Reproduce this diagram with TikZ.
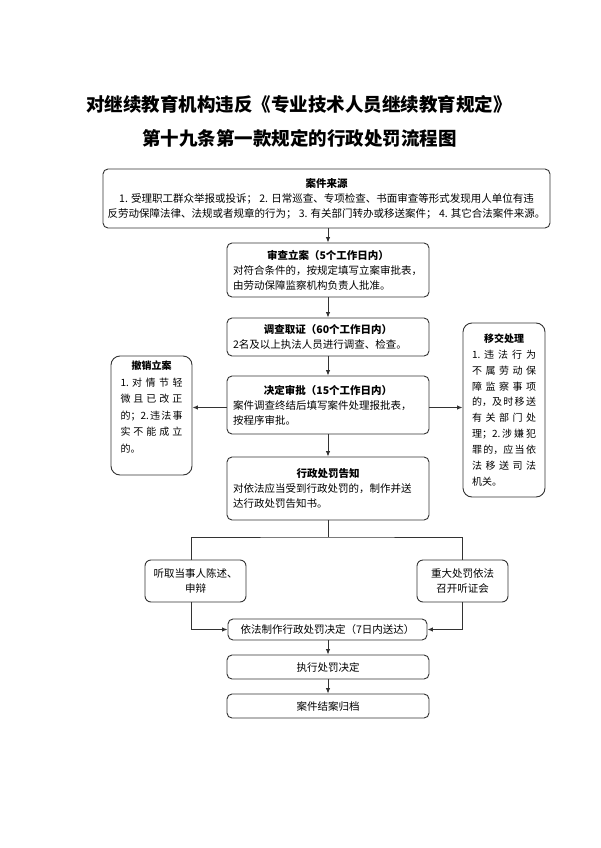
\documentclass[tikz,border=0pt]{standalone}
\usepackage{fontspec}
\setmainfont{Noto Sans CJK SC}
\usetikzlibrary{arrows.meta}
\definecolor{linec}{HTML}{333333}
\newcommand\hs{\hfill}
\begin{document}
\begin{tikzpicture}[x=1pt,y=-1pt,
  box/.style={draw=linec,line width=0.9pt,rounded corners=5pt,inner sep=0pt,font=\fontsize{10.5}{15}\selectfont},
  sidebox/.style={box,rounded corners=9pt},
  sidetext/.style={inner sep=0pt,align=left,text width=62pt,font=\fontsize{10}{16.6}\selectfont},
  conn/.style={draw=linec,line width=0.9pt},
  arr/.style={conn,-{Latex[length=5.5pt,width=4.5pt]}},
  ttl/.style={inner sep=0pt,font=\fontsize{18.5}{22}\selectfont\bfseries}]
\useasboundingbox[fill=white] (0,0) rectangle (600,848);

\node[ttl] (t1) at (299,104) {对继续教育机构违反《专业技术人员继续教育规定》};
\node[ttl] (t2) at (299.5,138) {第十九条第一款规定的行政处罚流程图};

\node[box,minimum width=447pt,minimum height=59pt,align=center] (b1) at (326.5,198.5)
  {{\bfseries 案件来源}\\1. 受理职工群众举报或投诉； 2. 日常巡查、专项检查、书面审查等形式发现用人单位有违\\反劳动保障法律、法规或者规章的行为； 3. 有关部门转办或移送案件； 4. 其它合法案件来源。};

\node[box,minimum width=202pt,minimum height=54pt,text width=190pt,align=left] (b2) at (328,270)
  {\makebox[190pt]{\bfseries 审查立案（5个工作日内）}\\对符合条件的，按规定填写立案审批表，\\由劳动保障监察机构负责人批准。};

\node[box,minimum width=202pt,minimum height=38pt,text width=190pt,align=left] (b3) at (328,337)
  {\makebox[190pt]{\bfseries 调查取证（60个工作日内）}\\2名及以上执法人员进行调查、检查。};

\node[box,minimum width=202pt,minimum height=58pt,text width=190pt,align=left] (b4) at (328,405)
  {\makebox[190pt]{\bfseries 决定审批（15个工作日内）}\\案件调查终结后填写案件处理报批表，\\按程序审批。};

\node[box,minimum width=202pt,minimum height=63pt,text width=190pt,align=left] (b5) at (328,488.5)
  {\makebox[190pt]{\bfseries 行政处罚告知}\\对依法应当受到行政处罚的，制作并送\\达行政处罚告知书。};

\node[sidebox,minimum width=81pt,minimum height=119pt] (lbox) at (151.5,415.5) {};
\node[sidetext,anchor=north] (ltxt) at ([yshift=-5pt]lbox.north)
  {\makebox[62pt]{\bfseries 撤销立案}\\
   \makebox[62pt]{1.\hs 对\hs 情\hs 节\hs 轻}\\
   \makebox[62pt]{微\hs 且\hs 已\hs 改\hs 正}\\
   \makebox[62pt]{的；2.\hs 违\hs 法\hs 事}\\
   \makebox[62pt]{实\hs 不\hs 能\hs 成\hs 立}\\
   的。};

\node[sidebox,minimum width=82pt,minimum height=174pt,text width=64pt,align=left,font=\fontsize{10}{15.9}\selectfont] (rbox) at (504,410)
  {\makebox[64pt]{\bfseries 移交处理}\\
   \makebox[64pt]{1.\hs 违\hs 法\hs 行\hs 为}\\
   \makebox[64pt]{不\hs 属\hs 劳\hs 动\hs 保}\\
   \makebox[64pt]{障\hs 监\hs 察\hs 事\hs 项}\\
   \makebox[64pt]{的，及\hs 时\hs 移\hs 送}\\
   \makebox[64pt]{有\hs 关\hs 部\hs 门\hs 处}\\
   \makebox[64pt]{理；2.\hs 涉\hs 嫌\hs 犯}\\
   \makebox[64pt]{罪\hs 的，应\hs 当\hs 依}\\
   \makebox[64pt]{法\hs 移\hs 送\hs 司\hs 法}\\
   机关。};

\node[box,minimum width=101pt,minimum height=42pt,align=center,rounded corners=6pt] (listen) at (195.5,581) {听取当事人陈述、\\申辩};
\node[box,minimum width=91pt,minimum height=42pt,align=center,rounded corners=6pt] (hear) at (462.5,581) {重大处罚依法\\召开听证会};
\node[box,minimum width=199pt,minimum height=21pt] (dec) at (327.5,629.5) {依法制作行政处罚决定（7日内送达）};
\node[box,minimum width=202pt,minimum height=24pt] (exec) at (328,667) {执行处罚决定};
\node[box,minimum width=202pt,minimum height=24pt] (arch) at (328,706) {案件结案归档};

\draw[arr] (b2.north |- b1.south) -- (b2.north);
\draw[arr] (b2) -- (b3);
\draw[arr] (b3) -- (b4);
\draw[arr] (b4) -- (b5);
\draw[arr] ([yshift=-2.5pt]b4.west) -- ([yshift=-2.5pt]b4.west -| lbox.east);
\draw[arr] ([yshift=-2.5pt]b4.east) -- ([yshift=-2.5pt]b4.east -| rbox.west);
\coordinate (j) at (328,537);
\draw[conn] (b5) -- (j);
\draw[conn] ([xshift=-4.5pt]listen.north) |- (j) -| (hear.north);
\draw[arr] ([xshift=-4.5pt]listen.south) |- (dec.west);
\draw[arr] (hear.south) |- (dec.east);
\draw[arr] (exec.north |- dec.south) -- (exec.north);
\draw[arr] (exec) -- (arch);
\end{tikzpicture}
\end{document}
